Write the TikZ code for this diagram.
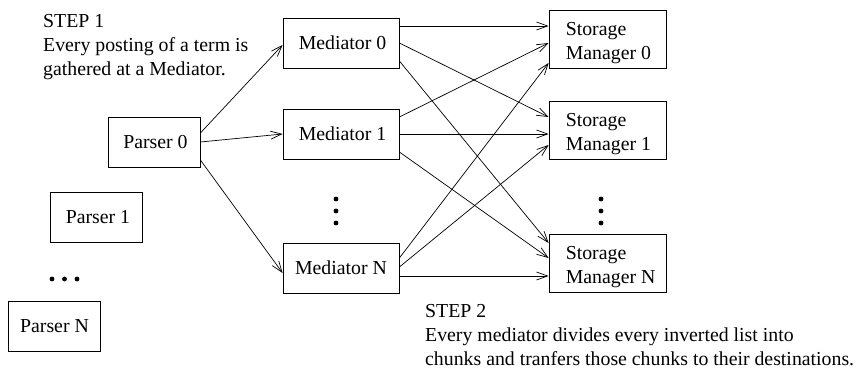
\documentclass[tikz,border=0pt]{standalone}
\usepackage{fontspec}
\setmainfont{Liberation Serif}
\usetikzlibrary{arrows.meta,calc}
\begin{document}
\begin{tikzpicture}[x=1pt,y=-1pt,
  font=\fontsize{19.8}{24}\selectfont,
  box/.style={draw, line width=0.8pt, inner sep=0pt, minimum height=50pt},
  parserbox/.style={box, minimum width=92pt},
  medbox/.style={box, minimum width=116pt},
  smbox/.style={box, minimum width=117pt, minimum height=58pt},
  note/.style={anchor=north west, align=left, inner sep=0pt},
  flow/.style={line width=0.7pt, -{Straight Barb[length=11pt,width=8pt,line width=0.7pt]}},
  dot/.style={fill=black}
]
\useasboundingbox (0,0) rectangle (856,371);

% parsers
\node[parserbox] (p0) at (154,142) {\hspace*{3pt}Parser 0};
\node[parserbox] (p1) at (96.5,217.5) {\hspace*{3pt}Parser 1};
\node[parserbox] (pn) at (54.5,326) {Parser N};

% mediators
\node[medbox] (m0) at (341,43) {\hspace*{3pt}Mediator 0};
\node[medbox] (m1) at (341,134) {\hspace*{3pt}Mediator 1};
\node[medbox] (mn) at (341,268) {Mediator N};

% storage managers
\node[smbox] (s0) at (607.5,39) {};
\node[smbox] (s1) at (607.5,130.5) {};
\node[smbox] (sn) at (607.5,263.5) {};
\node[note] (s0t) at ($(s0.north west)+(17,12.5)$) {Storage\\Manager 0};
\node[note] (s1t) at ($(s1.north west)+(17,12.5)$) {Storage\\Manager 1};
\node[note] (snt) at ($(sn.north west)+(17,12.5)$) {Storage\\Manager N};

% ellipsis dots
\foreach \x in {52,64.5,77} \fill[dot] (\x,279) circle (2.4);
\foreach \y in {199,211,223} {
  \fill[dot] (336,\y) circle (2.4);
  \fill[dot] (601,\y) circle (2.4);
}

% step 1: parser to mediators
\draw[flow] ($(p0.east)+(0,-9)$) -- ($(m0.west)+(0,2)$);
\draw[flow] (p0.east) -- (m1.west);
\draw[flow] ($(p0.east)+(0,18)$) -- ($(mn.west)+(0,5)$);

% step 2: mediators to storage managers
\draw[flow] ($(m0.east)+(0,-17)$) -- ($(s0.west)+(0,-13)$);
\draw[flow] (m0.east) -- ($(s1.west)+(0,-13.5)$);
\draw[flow] ($(m0.east)+(0,18)$) -- ($(sn.west)+(0,-20.5)$);

\draw[flow] ($(m1.east)+(0,-17)$) -- ($(s0.west)+(0,4)$);
\draw[flow] (m1.east) -- ($(s1.west)+(0,3.5)$);
\draw[flow] ($(m1.east)+(0,18)$) -- ($(sn.west)+(0,-5.5)$);

\draw[flow] ($(mn.east)+(0,-10)$) -- ($(s0.west)+(0,24)$);
\draw[flow] ($(mn.east)+(0,-1)$) -- ($(s1.west)+(0,14.5)$);
\draw[flow] ($(mn.east)+(0,8)$) -- ($(sn.west)+(0,12.5)$);

% notes
\node[note] (step1) at (43,14) {STEP 1\\Every posting of a term is\\gathered at a Mediator.};
\node[note] (step2) at (425,304) {STEP 2\\Every mediator divides every inverted list into\\chunks and tranfers those chunks to their destinations.};
\end{tikzpicture}
\end{document}
